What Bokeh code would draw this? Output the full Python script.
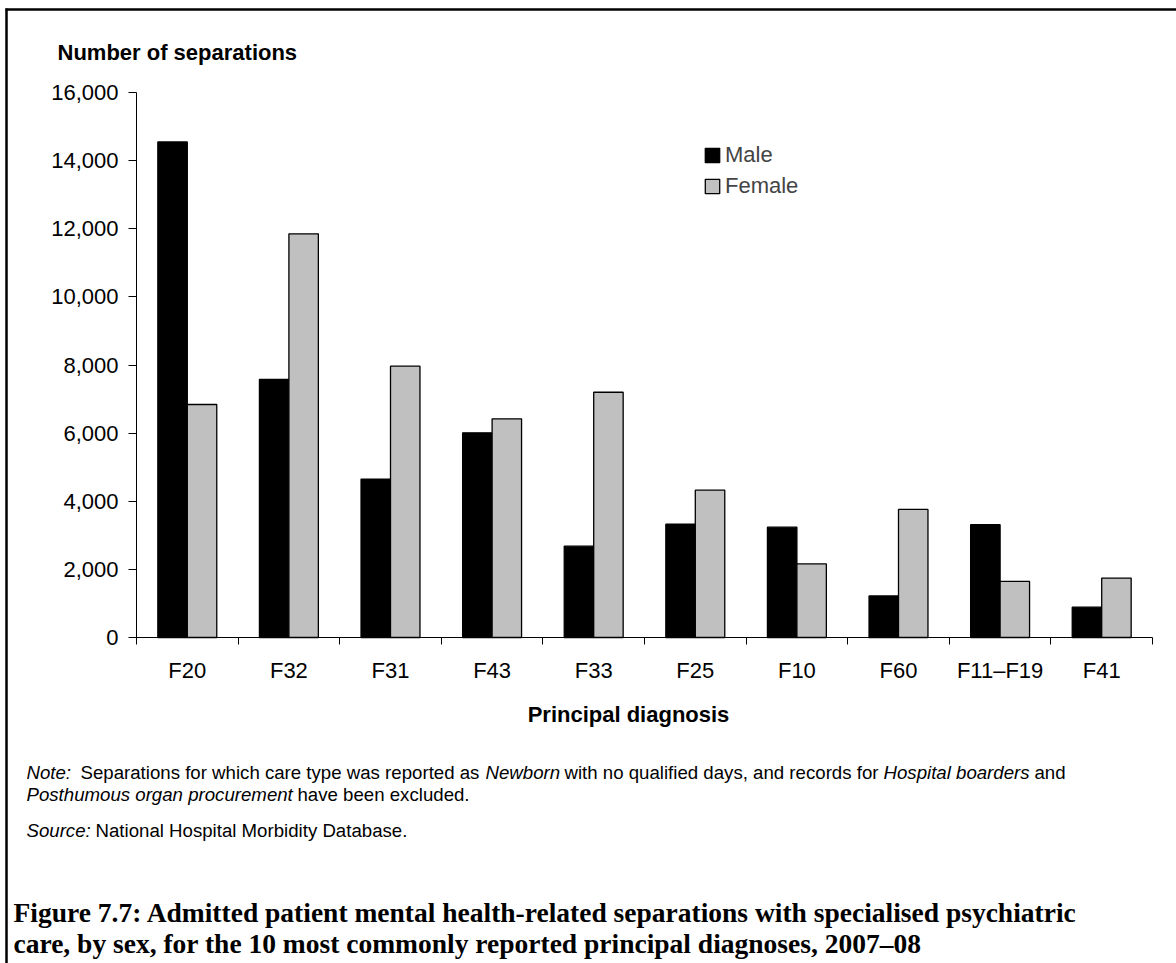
from bokeh.plotting import figure
from bokeh.models import (ColumnDataSource, Range1d, FixedTicker, LinearAxis,
                          NumeralTickFormatter, Label, Legend, LegendItem)
from bokeh.transform import dodge
from bokeh.embed import file_html
from bokeh.resources import INLINE

# ---------------- data ----------------
categories = ["F20", "F32", "F31", "F43", "F33", "F25", "F10", "F60", "F11\u2013F19", "F41"]
male = [14550, 7580, 4650, 6010, 2680, 3325, 3240, 1220, 3310, 890]
female = [6840, 11850, 7965, 6420, 7200, 4325, 2160, 3760, 1645, 1745]
series_names = ["Male", "Female"]
y_ticks = [0, 2000, 4000, 6000, 8000, 10000, 12000, 14000, 16000]
y_title = "Number of separations"
x_title = "Principal diagnosis"
note_line1 = [("Note:", True), ("Separations for which care type was reported as", False),
              ("Newborn", True), ("with no qualified days, and records for", False),
              ("Hospital boarders", True), ("and", False)]
note_line2 = [("Posthumous organ procurement", True), ("have been excluded.", False)]
source_line = [("Source:", True), ("National Hospital Morbidity Database.", False)]
fig_title = ["Figure 7.7: Admitted patient mental health-related separations with specialised psychiatric",
             "care, by sex, for the 10 most commonly reported principal diagnoses, 2007\u201308"]

# ---------------- layout ----------------
W, H = 1176, 963
PL, PR, PT, PB = 136, 1152, 92, 637      # plot-area edges in canvas pixels
YMAX = y_ticks[-1]
N = len(categories)
XA, XB = -0.5, N - 0.5                     # data x at plot-area left/right
sx = (PR - PL) / (XB - XA)
sy = (PB - PT) / YMAX

def dx(px):   # canvas x -> data x
    return XA + (px - PL) / sx

def dy(py):   # canvas y -> data y
    return (PB - py) / sy

src = ColumnDataSource(dict(idx=list(range(N)), male=male, female=female))

p = figure(x_range=Range1d(dx(0), dx(W)), y_range=Range1d(dy(H), dy(0)),
           width=W, height=H, toolbar_location=None, x_axis_location=None, y_axis_location=None,
           output_backend="svg", min_border=0)
p.background_fill_color = "white"
p.border_fill_color = "white"
p.outline_line_color = None
p.xgrid.visible = False
p.ygrid.visible = False

bw = 0.29
r_m = p.vbar(x=dodge("idx", -bw / 2), top="male", width=bw, source=src,
             fill_color="black", line_color="black", line_width=1.3)
r_f = p.vbar(x=dodge("idx", bw / 2), top="female", width=bw, source=src,
             fill_color="#C0C0C0", line_color="black", line_width=1.3)

# y axis
ya = LinearAxis(fixed_location=XA, bounds=(0, YMAX), ticker=FixedTicker(ticks=y_ticks),
                formatter=NumeralTickFormatter(format="0,0"))
ya.major_tick_out = 8
ya.major_tick_in = 0
ya.minor_tick_line_color = None
ya.major_label_standoff = 10
ya.major_label_text_font = "Liberation Sans"
ya.major_label_text_font_size = "22px"
ya.major_label_text_color = "black"
ya.axis_line_color = "black"
ya.major_tick_line_color = "black"
p.add_layout(ya, "left")

# x axis: labels at centres, tick marks at category boundaries
xa = LinearAxis(fixed_location=0, bounds=(XA, XB),
                ticker=FixedTicker(ticks=list(range(N)), minor_ticks=[i - 0.5 for i in range(N + 1)]),
                major_label_overrides={i: c for i, c in enumerate(categories)})
xa.major_tick_out = 0
xa.major_tick_in = 0
xa.minor_tick_out = 7
xa.minor_tick_in = 0
xa.minor_tick_line_color = "black"
xa.major_label_standoff = 13
xa.major_label_text_font = "Liberation Sans"
xa.major_label_text_font_size = "22px"
xa.major_label_text_color = "black"
xa.axis_line_color = "black"
p.add_layout(xa, "below")

# legend
legend = Legend(items=[LegendItem(label=series_names[0], renderers=[r_m]),
                       LegendItem(label=series_names[1], renderers=[r_f])],
                location=(703, H - 199), padding=0, margin=0, spacing=5,
                glyph_width=18, glyph_height=18, label_standoff=4,
                label_text_font="Liberation Sans", label_text_font_size="22px",
                border_line_color=None, background_fill_alpha=0)
p.add_layout(legend)

def add_text(text, px, py, size, bold=False, italic=False, font="Liberation Sans", align="left"):
    style = "bold" if bold else ("italic" if italic else "normal")
    p.add_layout(Label(x=dx(px), y=dy(py), text=text, text_font=font, text_font_size=size,
                       text_font_style=style, text_align=align, text_baseline="alphabetic",
                       text_color="black"))

add_text(y_title, 57, 52, "22px", bold=True)
add_text(x_title, 628, 714, "22px", bold=True, align="center")

NOTE_SIZE = "18.65px"
for (t, it), x in zip(note_line1, [26, 80, 485, 564, 883, 1034]):
    add_text(t, x, 772, NOTE_SIZE, italic=it)
for (t, it), x in zip(note_line2, [26, 297]):
    add_text(t, x, 794, NOTE_SIZE, italic=it)
for (t, it), x in zip(source_line, [26, 95]):
    add_text(t, x, 830, NOTE_SIZE, italic=it)

add_text(fig_title[0], 13, 912, "27.5px", bold=True, font="Liberation Serif")
add_text(fig_title[1], 13, 943, "27.5px", bold=True, font="Liberation Serif")

# frame lines (top and left) of the figure panel
p.segment(x0=[dx(5), dx(6)], y0=[dy(9), dy(8)], x1=[dx(W), dx(6)], y1=[dy(9), dy(H)],
          line_color="black", line_width=2.5)

open("out.html", "w").write(file_html(p, INLINE))
